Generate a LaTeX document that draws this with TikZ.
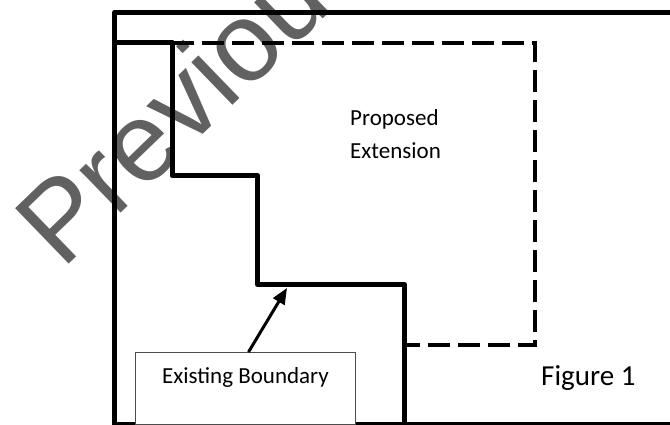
\documentclass[tikz,border=0pt]{standalone}
\usepackage{fontspec}
\setmainfont{Carlito}
\newfontfamily\wmfont{Liberation Sans}
\usetikzlibrary{arrows.meta}

\begin{document}
\begin{tikzpicture}[x=1pt, y=-1pt,
    heavy/.style={line width=5pt, line join=round},
    dashline/.style={line width=4pt, dash pattern=on 22pt off 8pt},
    lbl/.style={inner sep=0pt, anchor=base west, font=\fontsize{23}{27}\selectfont}]
    \useasboundingbox (0,0) rectangle (670,424);
    \clip (0,0) rectangle (670,424);

    % Watermark
    \node[rotate=44, anchor=base west, inner sep=0pt, text=black!62,
          font=\wmfont\fontsize{112}{112}\selectfont] (wmark) at (62,271) {Previous};

    % Site frame
    \draw[heavy] (114.5,12.5) rectangle (690,424.5);

    % Proposed extension
    \draw[dashline] (172,43) -- (535,43) -- (535,344.5) -- (404.5,344.5);
    \node[lbl] (proposed) at (350,125) {Proposed};
    \node[lbl] (extension) at (350,158) {Extension};

    % Existing boundary
    \draw[heavy] (117,42.5) -- (172,42.5) -- (172,175.5) -- (257.5,175.5)
        -- (257.5,284.5) -- (404.5,284.5) -- (404.5,430);

    \node[draw=black!70, line width=1pt, fill=white, anchor=north west, inner sep=0pt,
          minimum width=220pt, text height=31pt, text depth=41pt,
          font=\fontsize{23}{27}\selectfont] (existbox) at (135,352) {Existing Boundary};
    \coordinate (tip) at (287,288);
    \draw[line width=3pt, -{Triangle[length=16pt,width=13pt]}]
        ([xshift=3pt]existbox.north) -- (tip);

    \node[lbl, font=\fontsize{29}{34}\selectfont] (figlbl) at (541,385) {Figure 1};
\end{tikzpicture}
\end{document}
